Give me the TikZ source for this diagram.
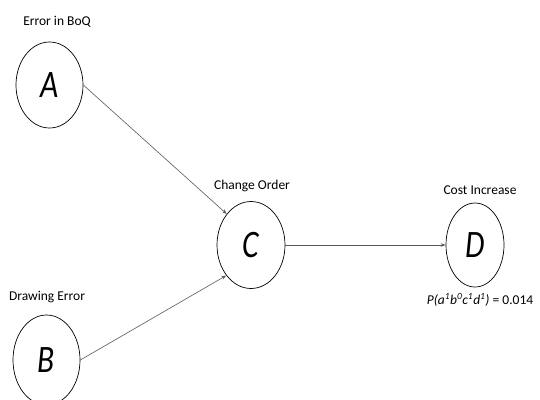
\documentclass[tikz,border=0pt]{standalone}
\usepackage{fontspec}
\setmainfont{Carlito}
\usetikzlibrary{shapes.geometric,arrows.meta}
\newcommand{\varletter}[1]{\scalebox{0.85}[1.05]{#1}}
\begin{document}
\begin{tikzpicture}[x=1pt,y=-1pt,
  var/.style={draw=black,line width=0.7pt,ellipse,inner sep=0pt,font=\fontsize{37}{37}\selectfont\itshape},
  lab/.style={font=\fontsize{13.5}{15}\selectfont,inner sep=0pt},
  arr/.style={draw=black!65,line width=0.6pt,-{Stealth[length=5pt,width=3.5pt]}}]
\useasboundingbox (0,0) rectangle (540,399);
\node[var,minimum width=67pt,minimum height=86pt] (A) at (49.5,85) {\varletter{A}};
\node[var,minimum width=67pt,minimum height=90pt] (B) at (46.5,360) {\varletter{B}};
\node[var,minimum width=68pt,minimum height=87pt] (C) at (251,245) {\varletter{C}};
\node[var,minimum width=58pt,minimum height=84pt] (D) at (475,245) {\varletter{D}};
\node[lab] (la) at (57,22) {Error in BoQ};
\node[lab] (lb) at (47,297) {Drawing Error};
\node[lab] (lc) at (252,186) {Change Order};
\node[lab] (ld) at (480,190) {Cost Increase};
\node[lab] (lp) at (480,300) {\textit{P(a\textsuperscript{1}b\textsuperscript{0}c\textsuperscript{1}d\textsuperscript{1})} = 0.014};
\draw[arr] (A.east) -- (C.128);
\draw[arr] (B.east) -- (C.231);
\draw[arr] (C.east) -- (D.west);
\end{tikzpicture}
\end{document}
